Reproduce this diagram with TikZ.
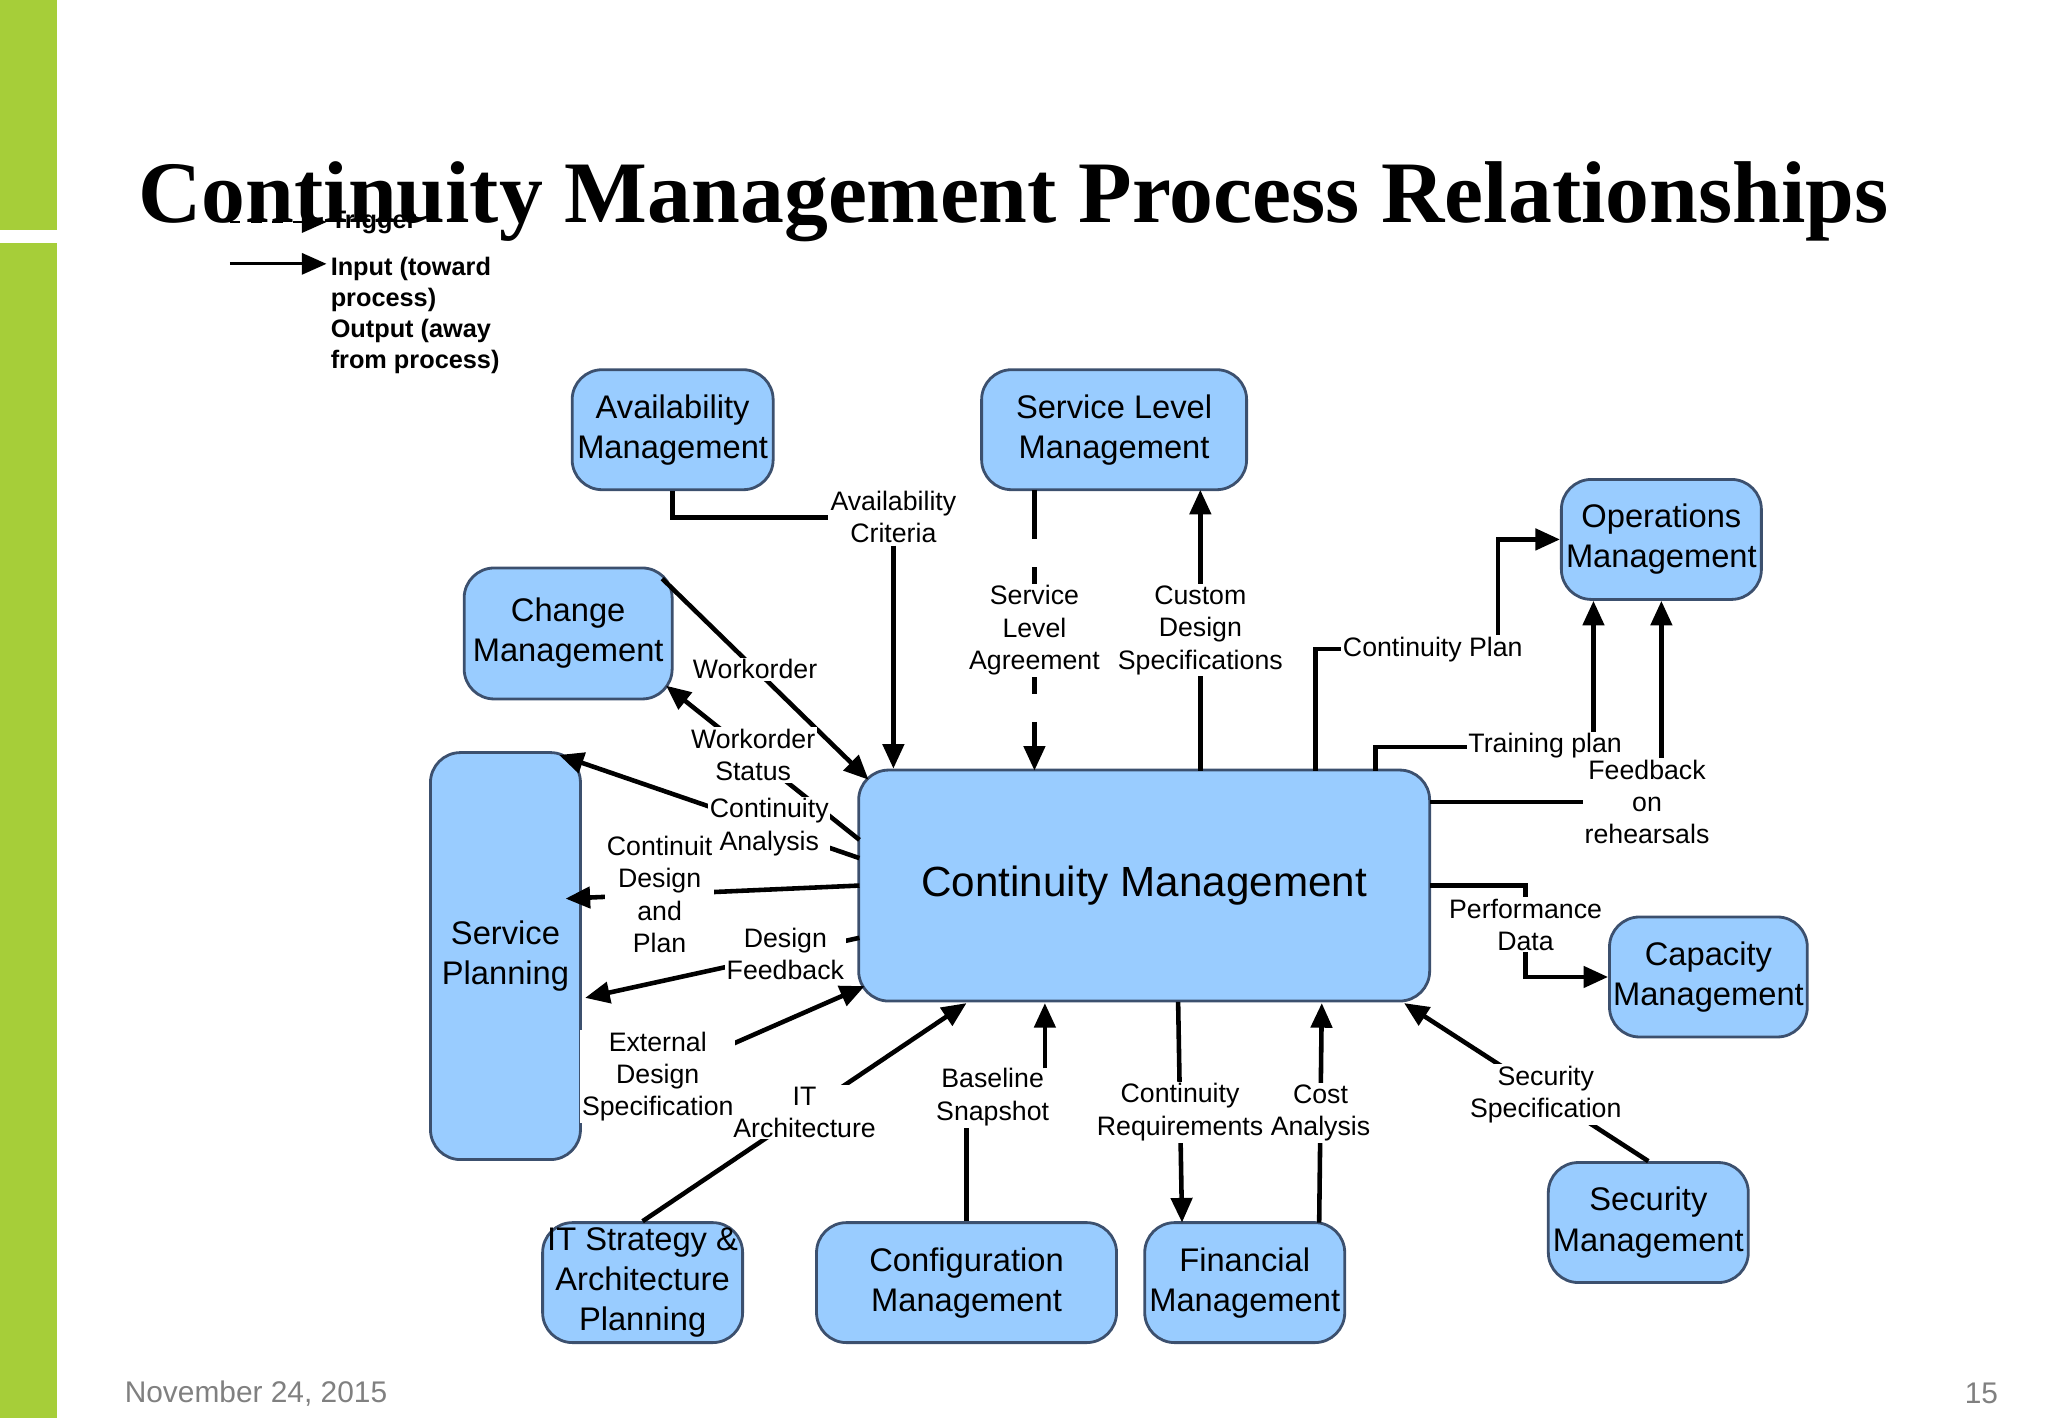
\documentclass[tikz,border=0pt]{standalone}
\usepackage{fontspec}
\setmainfont{Liberation Sans}
\newfontfamily\titlefont{Liberation Serif}
\usetikzlibrary{arrows.meta,positioning}
\definecolor{procblue}{RGB}{153,204,255}
\definecolor{procedge}{RGB}{60,80,110}
\definecolor{slidegreen}{RGB}{166,206,57}
\begin{document}
\begin{tikzpicture}[x=0.013061cm,y=-0.013061cm,
  proc/.style={draw=procedge, line width=0.8pt, fill=procblue, rounded corners=0.3cm, align=center, font=\fontsize{9.3}{11.4}\selectfont, inner sep=1pt},
  lbl/.style={fill=white, align=center, inner sep=0.5pt, font=\fontsize{7.6}{9.2}\selectfont},
  flow/.style={line width=1.3pt, -{Triangle[length=7pt,width=6pt]}},
  plain/.style={line width=1.3pt}]
\useasboundingbox (0,0) rectangle (1568,1086);
% slide background
\fill[slidegreen] (0,0) rectangle (44,176);
\fill[slidegreen] (0,186) rectangle (44,1086);
\node[anchor=base, font=\titlefont\bfseries] (title) at (776,170) {\resizebox{17.5cm}{!}{Continuity Management Process Relationships}};

% legend
\coordinate (trigA) at (176,170);
\coordinate (inA) at (176,202);
\node[anchor=west, font=\fontsize{7.2}{8.8}\selectfont\bfseries, inner sep=1pt] (trig) at (250,170) {Trigger};
\node[anchor=north west, align=left, font=\fontsize{7.2}{8.8}\selectfont\bfseries, inner sep=1pt] (inout) at (250,194) {Input (toward\\process)\\Output (away\\from process)};
\draw[flow, line width=0.8pt, dashed] (trigA) -- (trig.west);
\draw[flow, line width=0.8pt] (inA) -- (inA -| inout.west);

% processes
\node[proc, minimum width=2.01cm, minimum height=1.20cm] (avail) at (515,329) {Availability\\Management};
\node[proc, minimum width=2.65cm, minimum height=1.20cm] (slm) at (853,329) {Service Level\\Management};
\node[proc, minimum width=2.00cm, minimum height=1.20cm] (ops) at (1272,413) {Operations\\Management};
\node[proc, minimum width=2.08cm, minimum height=1.31cm] (change) at (435,485) {Change\\Management};
\node[proc, minimum width=1.50cm, minimum height=4.07cm] (plan) at (387,732) {Service\\Planning};
\node[proc, minimum width=5.71cm, minimum height=2.31cm, font=\fontsize{12}{14}\selectfont] (cm) at (876,678) {Continuity Management};
\node[proc, minimum width=1.95cm, minimum height=1.20cm] (cap) at (1308,748) {Capacity\\Management};
\node[proc, minimum width=2.00cm, minimum height=1.20cm] (sec) at (1262,936) {Security\\Management};
\node[proc, minimum width=2.00cm, minimum height=1.20cm] (strat) at (492,982) {IT Strategy \&\\Architecture\\Planning};
\node[proc, minimum width=3.00cm, minimum height=1.20cm] (cfg) at (740,982) {Configuration\\Management};
\node[proc, minimum width=2.00cm, minimum height=1.20cm] (fin) at (953,982) {Financial\\Management};

% relationships
\node[lbl] (crit) at (684,396) {Availability\\Criteria};
\draw[plain] (avail.south) |- (crit.west);
\draw[flow] (crit.south) -- (crit.south |- cm.north);
\draw[flow, dashed, dash pattern=on 14pt off 8pt] (792,375) -- node[lbl]{Service\\Level\\Agreement} (792,590);
\draw[flow] (919,590) -- node[lbl]{Custom\\Design\\Specifications} (919,375);
\draw[flow] (507,443) -- node[lbl, pos=0.45]{Workorder} (665,597);
\draw[flow] (658,643) -- node[lbl, pos=0.55]{Workorder\\Status} (510,525);
\draw[flow] (658,657) -- node[lbl, pos=0.3]{Continuity\\Analysis} (428,578);
\draw[flow] (658,678) -- node[lbl, pos=0.68]{Continuit\\Design\\and\\Plan} (433,688);
\draw[flow] (658,718) -- node[lbl, pos=0.27]{Design\\Feedback} (448,764);
\draw[flow] (445,850) -- node[lbl, pos=0.27]{External\\Design\\Specification} (662,755);
\draw[flow] (strat.north) -- node[lbl, pos=0.5]{IT\\Architecture} (740,768);
\node[lbl] (base) at (760,840) {Baseline\\Snapshot};
\draw[plain] (cfg.north) -- (cfg.north |- base.south);
\draw[flow] (800,818) -- (800,768);
\draw[flow] (902,767) -- node[lbl]{Continuity\\Requirements} (905,936);
\draw[flow] (1010,936) -- node[lbl]{Cost\\Analysis} (1012,768);
\draw[flow] (sec.north) -- node[lbl, pos=0.42]{Security\\Specification} (1075,768);
\draw[flow] (1095,678) -| (1168,748) -- (cap.west);
\draw[flow] (1095,614) -| (ops.south);
\draw[flow] (1053,590) |- (1220,572) -- (1220,460);
\draw[flow] (1007,590) |- (1147,497) |- (ops.west);
\node[lbl] (perf) at (1168,708) {Performance\\Data};
\node[lbl] (train) at (1183,571) {Training plan};
\node[lbl] (rehearse) at (1261,614) {Feedback\\on\\rehearsals};
\node[lbl] (cplan) at (1097,497) {Continuity Plan};

% footer
\node[text=gray, font=\fontsize{8.5}{10}\selectfont] (date) at (196,1067) {November 24, 2015};
\node[text=gray, font=\fontsize{8.5}{10}\selectfont] (page) at (1517,1067) {15};
\end{tikzpicture}
\end{document}
